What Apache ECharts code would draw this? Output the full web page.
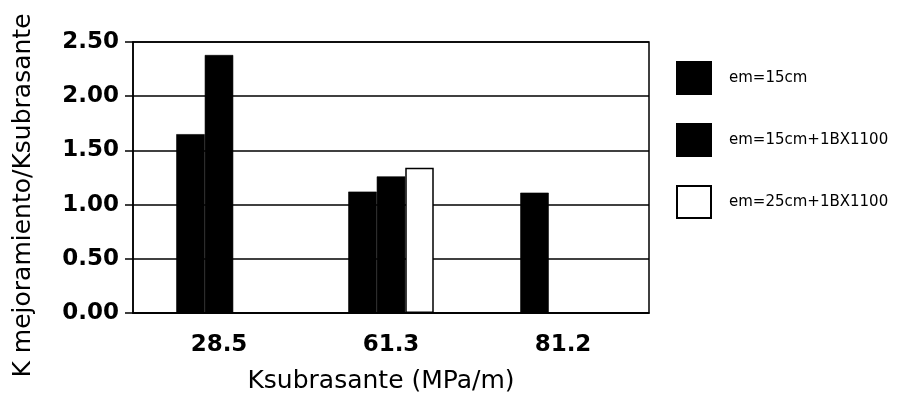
<!DOCTYPE html>
<html>
<head>
<meta charset="utf-8">
<script src="https://cdn.jsdelivr.net/npm/echarts@6/dist/echarts.min.js"></script>
<style>
  html, body { margin: 0; padding: 0; background: #fff; }
  #chart { width: 897px; height: 413px; }
</style>
</head>
<body>
<div id="chart"></div>
<script>
// Subgrade modulus categories (MPa/m)
const categories = ['28.5', '61.3', '81.2'];

// Improvement ratio K mejoramiento / K subrasante for each base layer
const seriesNames = ['em=15cm', 'em=15cm+1BX1100', 'em=25cm+1BX1100'];
const em15 = [1.65, 1.12, 1.11];
const em15Geogrid = [2.38, 1.26, null];
const em25Geogrid = [null, 1.34, null];

const yTicks = [0, 0.5, 1.0, 1.5, 2.0, 2.5];

const chart = echarts.init(document.getElementById('chart'));

const labelFont = { fontFamily: 'DejaVu Sans', fontWeight: 'bold', fontSize: 23, color: '#000' };

function barSeries(name, data, fill) {
  return {
    name: name,
    type: 'bar',
    data: data,
    barWidth: 28.5,
    barGap: '0%',
    itemStyle: { color: fill, borderColor: '#000', borderWidth: fill === '#000' ? 0.6 : 1.5 }
  };
}

chart.setOption({
  animation: false,
  backgroundColor: '#fff',
  grid: {
    left: 133, right: 248, top: 42, bottom: 100,
    show: true, borderColor: '#000', borderWidth: 1.5, backgroundColor: 'transparent'
  },
  legend: {
    orient: 'vertical',
    left: 676,
    top: 61,
    padding: 0,
    itemWidth: 34,
    itemHeight: 32,
    itemGap: 28,
    icon: 'rect',
    textStyle: { fontFamily: 'DejaVu Sans', fontSize: 15, color: '#000', padding: [0, 0, 0, 13] },
    data: seriesNames
  },
  xAxis: {
    type: 'category',
    data: categories,
    name: 'Ksubrasante (MPa/m)',
    nameLocation: 'middle',
    nameGap: 56,
    nameTextStyle: { fontFamily: 'DejaVu Sans', fontSize: 25, color: '#000', padding: [0, 20, 0, 0] },
    axisLine: { lineStyle: { color: '#000', width: 1.5 } },
    axisTick: { length: 9, lineStyle: { color: '#000', width: 1.5 } },
    axisLabel: Object.assign({ margin: 21 }, labelFont)
  },
  yAxis: {
    type: 'value',
    min: yTicks[0],
    max: yTicks[yTicks.length - 1],
    interval: 0.5,
    name: 'K mejoramiento/Ksubrasante',
    nameLocation: 'middle',
    nameGap: 97,
    nameTextStyle: { fontFamily: 'DejaVu Sans', fontSize: 25, color: '#000', padding: [0, 36, 0, 0] },
    axisLine: { show: true, lineStyle: { color: '#000', width: 1.5 } },
    axisTick: { show: true, length: 8, lineStyle: { color: '#000', width: 1.5 } },
    splitLine: { lineStyle: { color: '#000', width: 1.5 } },
    axisLabel: Object.assign({ margin: 14, formatter: v => v.toFixed(2) }, labelFont)
  },
  series: [
    barSeries(seriesNames[0], em15, '#000'),
    barSeries(seriesNames[1], em15Geogrid, '#000'),
    barSeries(seriesNames[2], em25Geogrid, '#fff')
  ]
});
</script>
</body>
</html>
